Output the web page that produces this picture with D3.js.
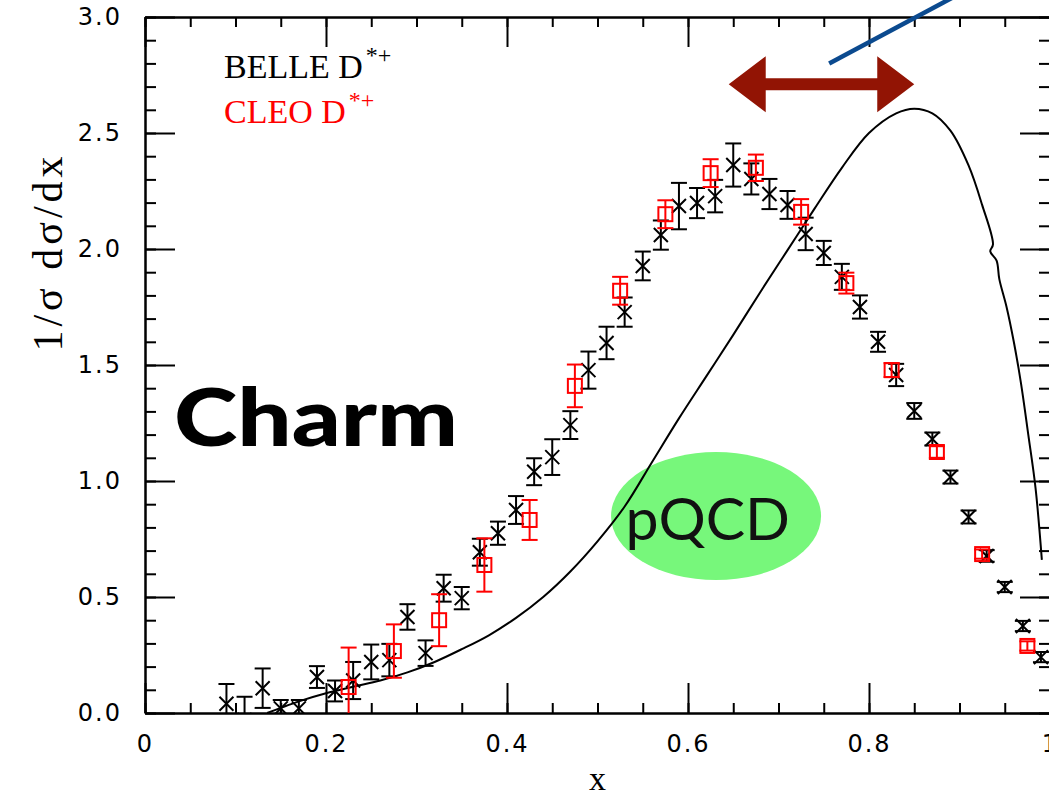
<!DOCTYPE html>
<html>
<head>
<meta charset="utf-8">
<script src="https://cdn.jsdelivr.net/npm/d3@7"></script>
<style>
  body { margin: 0; background: #fff; }
  svg { display: block; }
  .tick text { font-family: "DejaVu Sans", sans-serif; font-size: 24px; letter-spacing: 2px; fill: #000; }
  .axis path, .axis line { stroke: #000; stroke-width: 2px; }
</style>
</head>
<body>
<div id="chart"></div>
<script>
// BELLE D*+ (black crosses)
const belleX = [0.09, 0.11, 0.13, 0.15, 0.17, 0.19, 0.21, 0.23, 0.25, 0.27,
                0.29, 0.31, 0.33, 0.35, 0.37, 0.39, 0.41, 0.43, 0.45, 0.47,
                0.49, 0.51, 0.53, 0.55, 0.57, 0.59, 0.61, 0.63, 0.65, 0.67,
                0.69, 0.71, 0.73, 0.75, 0.77, 0.79, 0.81, 0.83, 0.85, 0.87,
                0.89, 0.91, 0.93, 0.95, 0.97, 0.99];
const belleY = [0.04, -0.03, 0.107, 0.02, 0.02, 0.155, 0.095, 0.14, 0.22, 0.228,
                0.414, 0.258, 0.538, 0.495, 0.693, 0.775, 0.875, 1.04, 1.103, 1.241,
                1.478, 1.595, 1.728, 1.927, 2.06, 2.185, 2.198, 2.228, 2.362, 2.302,
                2.237, 2.19, 2.065, 1.983, 1.88, 1.75, 1.60, 1.457, 1.302, 1.181,
                1.017, 0.845, 0.677, 0.543, 0.375, 0.241];
const belleErr = [0.085, 0.10, 0.085, 0.036, 0.036, 0.047, 0.045, 0.08, 0.075, 0.07,
                  0.055, 0.055, 0.058, 0.048, 0.058, 0.05, 0.06, 0.058, 0.077, 0.06,
                  0.08, 0.07, 0.063, 0.062, 0.063, 0.10, 0.065, 0.07, 0.093, 0.067,
                  0.065, 0.06, 0.07, 0.052, 0.056, 0.05, 0.043, 0.048, 0.034, 0.028,
                  0.028, 0.028, 0.025, 0.022, 0.022, 0.022];

// CLEO D*+ (red squares)
const cleoX = [0.225, 0.275, 0.325, 0.375, 0.425, 0.475, 0.525, 0.575,
               0.625, 0.675, 0.725, 0.775, 0.825, 0.875, 0.925, 0.975];
const cleoY = [0.112, 0.267, 0.40, 0.638, 0.832, 1.41, 1.82, 2.15,
               2.327, 2.35, 2.16, 1.853, 1.478, 1.125, 0.685, 0.289];
const cleoErr = [0.17, 0.115, 0.112, 0.115, 0.086, 0.092, 0.06, 0.06,
                 0.06, 0.057, 0.055, 0.045, 0.03, 0.025, 0.02, 0.02];

// perturbative QCD curve
const theoryX = [0.135, 0.15, 0.17, 0.20, 0.23, 0.26, 0.29, 0.32, 0.35, 0.38,
                 0.41, 0.44, 0.47, 0.50, 0.53, 0.56, 0.59, 0.62, 0.65, 0.68,
                 0.71, 0.74, 0.77, 0.80, 0.83, 0.85, 0.87, 0.89, 0.91, 0.925,
                 0.937, 0.934, 0.941, 0.944, 0.952, 0.96, 0.968, 0.976, 0.984, 0.991];
const theoryY = [0.0, 0.022, 0.05, 0.085, 0.113, 0.14, 0.175, 0.22, 0.275, 0.335,
                 0.41, 0.50, 0.61, 0.74, 0.89, 1.08, 1.27, 1.45, 1.63, 1.815,
                 1.995, 2.175, 2.35, 2.50, 2.585, 2.605, 2.585, 2.51, 2.36, 2.19,
                 2.02, 1.99, 1.95, 1.87, 1.75, 1.60, 1.42, 1.20, 0.97, 0.66];

const xMajor = [0, 0.2, 0.4, 0.6, 0.8, 1.0];
const xTickLabels = ["0", "0.2", "0.4", "0.6", "0.8", "1"];
const yMajor = [0, 0.5, 1.0, 1.5, 2.0, 2.5, 3.0];
const yTickLabels = ["0.0", "0.5", "1.0", "1.5", "2.0", "2.5", "3.0"];

const W = 1049, H = 796;
const mLeft = 145, mRight = 1050, mTop = 17, mBottom = 713;

const svg = d3.select("#chart").append("svg").attr("width", W).attr("height", H);

const x = d3.scaleLinear().domain([0, 1]).range([mLeft, mRight]);
const y = d3.scaleLinear().domain([0, 3]).range([mBottom, mTop]);

svg.append("defs").append("clipPath").attr("id", "plotclip")
    .append("rect").attr("x", mLeft).attr("y", mTop).attr("width", mRight - mLeft).attr("height", mBottom - mTop);

// green pQCD blob sits underneath the curve
svg.append("ellipse")
    .attr("cx", x(0.631)).attr("cy", y(0.849))
    .attr("rx", 105).attr("ry", 64)
    .attr("fill", "#77f77b");

svg.append("text")
    .attr("x", x(0.531)).attr("y", y(0.746))
    .attr("font-family", "Lato, 'Open Sans', sans-serif")
    .attr("font-size", 59)
    .attr("fill", "#111")
    .text("pQCD");

svg.append("text")
    .attr("transform", "translate(174,446) scale(1.2,1)")
    .attr("font-family", "Lato, 'Open Sans', sans-serif")
    .attr("font-weight", 900)
    .attr("font-size", 80)
    .attr("fill", "#000")
    .text("Charm");

// axes, ticks pointing inward on all four sides
function frame(axisFn, scale, pos, vals, size, fmt, pad) {
    const a = axisFn(scale).tickValues(vals).tickSize(-size).tickSizeOuter(0).tickPadding(pad);
    a.tickFormat(fmt);
    const g = svg.append("g").attr("class", "axis").attr("transform", pos).call(a);
    return g;
}
const xMinor = x.ticks(25), yMinor = y.ticks(30);
const none = () => "";
frame(d3.axisBottom, x, `translate(0,${mBottom})`, xMinor, 10, none, 0);
frame(d3.axisTop, x, `translate(0,${mTop})`, xMinor, 10, none, 0);
frame(d3.axisLeft, y, `translate(${mLeft},0)`, yMinor, 11, none, 0);
frame(d3.axisRight, y, `translate(${mRight},0)`, yMinor, 11, none, 0);

frame(d3.axisBottom, x, `translate(0,${mBottom})`, xMajor, 30, (d, i) => xTickLabels[i], 22);
frame(d3.axisTop, x, `translate(0,${mTop})`, xMajor, 30, none, 0);
frame(d3.axisLeft, y, `translate(${mLeft},0)`, yMajor, 30, (d, i) => yTickLabels[i], 23);
frame(d3.axisRight, y, `translate(${mRight},0)`, yMajor, 30, none, 0);

// theory curve
const curve = d3.line()
    .x(d => x(d[0])).y(d => y(d[1]))
    .curve(d3.curveCatmullRom.alpha(0.5));
svg.append("path")
    .attr("clip-path", "url(#plotclip)")
    .attr("d", curve(theoryX.map((v, i) => [v, theoryY[i]])))
    .attr("fill", "none").attr("stroke", "#000").attr("stroke-width", 2);

const plot = svg.append("g").attr("clip-path", "url(#plotclip)");

function errorBars(g, xs, ys, es, color, cap) {
    const eb = g.selectAll(null).data(xs).enter().append("g").attr("stroke", color).attr("stroke-width", 2);
    eb.append("line")
        .attr("x1", d => x(d)).attr("x2", d => x(d))
        .attr("y1", (d, i) => y(ys[i] - es[i])).attr("y2", (d, i) => y(ys[i] + es[i]));
    eb.append("line")
        .attr("x1", d => x(d) - cap).attr("x2", d => x(d) + cap)
        .attr("y1", (d, i) => y(ys[i] + es[i])).attr("y2", (d, i) => y(ys[i] + es[i]));
    eb.append("line")
        .attr("x1", d => x(d) - cap).attr("x2", d => x(d) + cap)
        .attr("y1", (d, i) => y(ys[i] - es[i])).attr("y2", (d, i) => y(ys[i] - es[i]));
    return eb;
}

const belle = errorBars(plot, belleX, belleY, belleErr, "#000", 8);
const s = 7;
belle.append("path")
    .attr("d", (d, i) => {
        const cx = x(d), cy = y(belleY[i]);
        return `M${cx - s},${cy - s}L${cx + s},${cy + s}M${cx - s},${cy + s}L${cx + s},${cy - s}`;
    })
    .attr("fill", "none");

const cleo = errorBars(plot, cleoX, cleoY, cleoErr, "#ff0000", 8);
cleo.append("rect")
    .attr("x", d => x(d) - 7).attr("y", (d, i) => y(cleoY[i]) - 7)
    .attr("width", 14).attr("height", 14)
    .attr("fill", "none");

// legend
const leg = svg.append("g").attr("font-family", "'Liberation Serif', 'DejaVu Serif', serif").attr("font-size", 34);
leg.append("text").attr("x", 224).attr("y", 78).attr("fill", "#000")
    .text("BELLE D").append("tspan").attr("dx", 3).attr("dy", -15).attr("font-size", 24).text("*+");
leg.append("text").attr("x", 224).attr("y", 123).attr("fill", "#ff0000")
    .text("CLEO D").append("tspan").attr("dx", 3).attr("dy", -15).attr("font-size", 24).text("*+");

// axis titles
svg.append("text")
    .attr("x", x(0.5)).attr("y", 790)
    .attr("text-anchor", "middle")
    .attr("font-family", "'Liberation Serif', 'DejaVu Serif', serif")
    .attr("font-size", 34)
    .text("x");
svg.append("text")
    .attr("transform", `translate(62,252) rotate(-90)`)
    .attr("text-anchor", "middle")
    .attr("font-family", "'Liberation Serif', 'DejaVu Serif', serif")
    .attr("font-size", 42)
    .attr("letter-spacing", 4)
    .text("1/σ dσ/dx");

// annotations: double arrow and blue line
const ax0 = 0.645, ax1 = 0.850, ay = 2.71;
const head = 37, hh = 28, sh = 6;
const xl = x(ax0), xr = x(ax1), yc = y(ay);
svg.append("path")
    .attr("d", `M${xl},${yc} L${xl + head},${yc - hh} L${xl + head},${yc - sh} L${xr - head},${yc - sh} L${xr - head},${yc - hh} L${xr},${yc} L${xr - head},${yc + hh} L${xr - head},${yc + sh} L${xl + head},${yc + sh} L${xl + head},${yc + hh} Z`)
    .attr("fill", "#921404");

svg.append("line")
    .attr("x1", x(0.756)).attr("y1", y(2.80))
    .attr("x2", x(0.905)).attr("y2", y(3.11))
    .attr("stroke", "#0b4a8f").attr("stroke-width", 4.5);
</script>
</body>
</html>
